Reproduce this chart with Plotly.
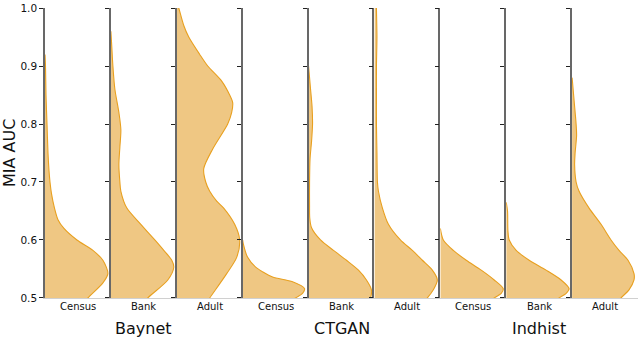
import plotly.graph_objects as go
from plotly.subplots import make_subplots

generators = ["Baynet", "CTGAN", "Indhist"]
datasets = ["Census", "Bank", "Adult"]
y_ticks = [0.5, 0.6, 0.7, 0.8, 0.9, 1.0]

# Half-violin density profiles (AUC level -> relative density width)
baynet_census_auc = [0.92, 0.9, 0.85, 0.8, 0.75, 0.72, 0.7, 0.68, 0.655, 0.635, 0.62, 0.6, 0.582, 0.565, 0.542, 0.526, 0.5, 0.48]
baynet_census_dens = [0, 0.5, 1, 2, 3, 4, 5, 6.5, 9.5, 13, 19, 32, 48, 58, 63, 58, 43, 33]

baynet_bank_auc = [0.96, 0.93, 0.9, 0.86, 0.82, 0.79, 0.76, 0.73, 0.7, 0.684, 0.655, 0.627, 0.6, 0.582, 0.565, 0.553, 0.531, 0.5, 0.48]
baynet_bank_dens = [0, 1, 2, 4, 8, 10, 9, 8, 9, 10, 16, 30, 44, 53, 61, 63, 57, 37, 27]

baynet_adult_auc = [1.01, 1.0, 0.97, 0.95, 0.92, 0.9, 0.874, 0.85, 0.837, 0.82, 0.8, 0.757, 0.723, 0.7, 0.684, 0.667, 0.655, 0.627, 0.6, 0.57, 0.542, 0.5, 0.48]
baynet_adult_dens = [0, 2, 7, 12, 23, 31, 45, 53, 56, 55, 51, 36, 27, 29, 33, 40, 47, 58, 63, 60, 50, 33, 25]

ctgan_census_auc = [0.6, 0.593, 0.57, 0.553, 0.545, 0.536, 0.528, 0.516, 0.508, 0.5, 0.48]
ctgan_census_dens = [0, 0.7, 5, 13, 20, 30, 50, 62, 60, 53, 35]

ctgan_bank_auc = [0.9, 0.86, 0.83, 0.8, 0.77, 0.74, 0.7, 0.66, 0.638, 0.621, 0.6, 0.582, 0.565, 0.548, 0.531, 0.514, 0.5, 0.48]
ctgan_bank_dens = [0, 2, 3.5, 4, 3, 1.5, 1, 1, 1.2, 3, 12, 25, 38, 50, 58, 63, 62, 55]

ctgan_adult_auc = [1.01, 1.0, 0.95, 0.9, 0.85, 0.8, 0.75, 0.7, 0.684, 0.655, 0.627, 0.6, 0.582, 0.565, 0.548, 0.531, 0.514, 0.5, 0.48]
ctgan_adult_dens = [2, 2, 2.5, 2, 2, 2, 2.5, 3, 4, 8, 14, 26, 38, 48, 58, 63, 59, 53, 42]

indhist_census_auc = [0.62, 0.6, 0.582, 0.565, 0.548, 0.531, 0.516, 0.508, 0.5, 0.48]
indhist_census_dens = [0, 3, 13, 26, 41, 54, 63, 61, 54, 38]

indhist_bank_auc = [0.665, 0.65, 0.616, 0.6, 0.582, 0.565, 0.548, 0.531, 0.516, 0.508, 0.5, 0.48]
indhist_bank_dens = [0, 1.3, 1.7, 3, 10, 23, 40, 55, 63, 60, 53, 38]

indhist_adult_auc = [0.88, 0.84, 0.8, 0.78, 0.75, 0.73, 0.7, 0.684, 0.655, 0.627, 0.6, 0.582, 0.565, 0.542, 0.531, 0.514, 0.5, 0.48]
indhist_adult_dens = [0, 2, 4, 4.5, 3, 2.5, 4, 7, 17, 29, 39, 47, 56, 62, 62, 57, 49, 40]

panels = [
    (baynet_census_auc, baynet_census_dens),
    (baynet_bank_auc, baynet_bank_dens),
    (baynet_adult_auc, baynet_adult_dens),
    (ctgan_census_auc, ctgan_census_dens),
    (ctgan_bank_auc, ctgan_bank_dens),
    (ctgan_adult_auc, ctgan_adult_dens),
    (indhist_census_auc, indhist_census_dens),
    (indhist_bank_auc, indhist_bank_dens),
    (indhist_adult_auc, indhist_adult_dens),
]

FILL = "#EFC783"
LINE = "#E8A020"
FONT = "DejaVu Sans"

n = len(panels)
fig = make_subplots(rows=1, cols=n, shared_yaxes=True, horizontal_spacing=0)

for i, (auc, dens) in enumerate(panels):
    fig.add_trace(
        go.Scatter(
            x=dens, y=auc, mode="lines", fill="tozerox",
            fillcolor=FILL,
            line=dict(color=LINE, width=1.1, shape="spline", smoothing=0.8),
            showlegend=False, hoverinfo="skip",
        ),
        row=1, col=i + 1,
    )
    fig.update_xaxes(
        range=[0, 66], showgrid=False, zeroline=False, showticklabels=False,
        showline=True, linecolor="#d0d0d0", linewidth=1, fixedrange=True,
        row=1, col=i + 1,
    )
    fig.update_yaxes(
        range=[0.4999, 1.0001], tickvals=y_ticks, tickformat=".1f",
        showgrid=False, zeroline=False,
        showline=True, linecolor="#686868", linewidth=1.6,
        ticks="outside", ticklen=4, tickwidth=1, tickcolor="#222",
        showticklabels=(i == 0), ticklabeloverflow="allow",
        tickfont=dict(family=FONT, size=10.5, color="#111"),
        row=1, col=i + 1,
    )

annotations = []
for i in range(n):
    dom = fig.layout[f"xaxis{'' if i == 0 else i + 1}"].domain
    cx = (dom[0] + dom[1]) / 2
    annotations.append(dict(
        x=cx, y=0, xref="paper", yref="paper", xanchor="center", yanchor="top", yshift=-1,
        text=datasets[i % 3], showarrow=False,
        font=dict(family=FONT, size=10, color="#111"),
    ))
for g, name in enumerate(generators):
    d0 = fig.layout[f"xaxis{'' if g * 3 == 0 else g * 3 + 1}"].domain[0]
    d1 = fig.layout[f"xaxis{g * 3 + 3}"].domain[1]
    annotations.append(dict(
        x=(d0 + d1) / 2, y=0, xref="paper", yref="paper", xanchor="center", yanchor="top", yshift=-19,
        text=name, showarrow=False,
        font=dict(family=FONT, size=16, color="#111"),
    ))
annotations.append(dict(
    x=0, y=0.5, xref="paper", yref="paper", xanchor="center", yanchor="middle",
    xshift=-36, textangle=-90,
    text="MIA AUC", showarrow=False,
    font=dict(family=FONT, size=16, color="#111"),
))

fig.update_layout(
    width=640, height=338,
    margin=dict(l=45, r=2, t=4, b=40),
    paper_bgcolor="white", plot_bgcolor="white",
    annotations=annotations,
    showlegend=False,
)

fig.write_html(
    "out.html",
    config={"displayModeBar": False},
    post_script="document.body.style.margin='0';document.body.style.overflow='hidden';",
)
